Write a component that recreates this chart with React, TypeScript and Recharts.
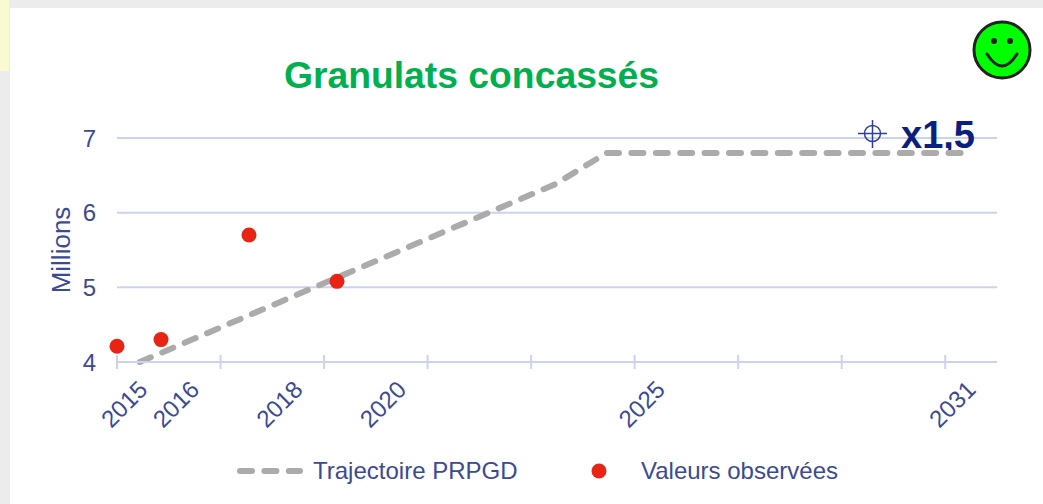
import React from 'react';
import { ComposedChart, Line, XAxis, YAxis, CartesianGrid, Legend } from 'recharts';

// x values are in axis slots: the printed years are not evenly placed on the source axis
const trajectoryX = [0.22, 2.125, 4.23, 4.73, 8.17];
const trajectoryY = [4.0, 5.13, 6.38, 6.8, 6.8];
const observedX = [0, 0.425, 1.275, 2.125];
const observedY = [4.21, 4.3, 5.7, 5.08];

const tickSlots = [0, 1, 2, 3, 4, 5, 6, 7, 8];
const labelSlots = [0, 0.5, 1.5, 2.5, 5, 8];
const labelYears = ['2015', '2016', '2018', '2020', '2025', '2031'];
const yTicks = [4, 5, 6, 7];

const title = 'Granulats concassés';
const multiplier = 'x1,5';
const trajectoryName = 'Trajectoire PRPGD';
const observedName = 'Valeurs observées';

const FONT = '"Liberation Sans", Arial, sans-serif';
const TEXT = '#3b4a93';
const GRID = '#cdd3ee';
const DASH = '#ababab';

const rows = [
  ...trajectoryX.map((x, i) => ({ x, trajectory: trajectoryY[i] })),
  ...observedX.map((x, i) => ({ x, observed: observedY[i] })),
].sort((a, b) => a.x - b.x);

const allTicks = [...new Set([...tickSlots, ...labelSlots])].sort((a, b) => a - b);

const XTick = ({ x, y, payload }: any) => {
  const idx = labelSlots.indexOf(payload.value);
  return (
    <g>
      {tickSlots.includes(payload.value) && (
        <line x1={x} x2={x} y1={355} y2={369} stroke={GRID} strokeWidth={2} />
      )}
      {idx >= 0 && (
        <text
          x={x + 7}
          y={404}
          textAnchor="middle"
          dominantBaseline="central"
          transform={`rotate(-45 ${x + 7} 404)`}
          fill={TEXT}
          fontSize={24}
          fontFamily={FONT}
        >
          {labelYears[idx]}
        </text>
      )}
    </g>
  );
};

const LegendContent = () => (
  <div style={{ position: 'relative', height: 34, fontFamily: FONT, fontSize: 24, color: TEXT }}>
    <svg width={1043} height={34} style={{ position: 'absolute', left: 0, top: 0 }}>
      <line x1={240} x2={300} y1={17} y2={17} stroke={DASH} strokeWidth={6} strokeLinecap="round" strokeDasharray="12 12.4" />
      <circle cx={599} cy={17} r={7.5} fill="#e82514" />
    </svg>
    <span style={{ position: 'absolute', left: 313, top: 3 }}>{trajectoryName}</span>
    <span style={{ position: 'absolute', left: 641, top: 3 }}>{observedName}</span>
  </div>
);

const App = () => (
  <div style={{ position: 'fixed', left: 0, top: 0, width: 1043, height: 504, background: '#ececec', overflow: 'hidden' }}>
    <div style={{ position: 'absolute', left: 0, top: 0, width: 9, height: 71, background: '#f9f9d2' }} />
    <div style={{ position: 'absolute', left: 10, top: 8, width: 1033, height: 496, background: '#fff' }} />
    <div style={{ position: 'absolute', left: 0, top: 0 }}>
      <ComposedChart
        width={1043}
        height={504}
        data={rows}
        margin={{ left: 57, right: 46, top: 138, bottom: 18 }}
      >
        <CartesianGrid horizontal vertical={false} stroke={GRID} strokeWidth={2} />
        <XAxis
          dataKey="x"
          type="number"
          domain={[0, 8.5]}
          ticks={allTicks}
          interval={0}
          height={90}
          tick={<XTick />}
          tickLine={false}
          axisLine={{ stroke: GRID, strokeWidth: 2 }}
        />
        <YAxis
          domain={[4, 7]}
          ticks={yTicks}
          width={60}
          axisLine={false}
          tickLine={false}
          tickMargin={15}
          tick={{ fill: TEXT, fontSize: 24, fontFamily: FONT }}
        />
        <Legend verticalAlign="bottom" content={<LegendContent />} wrapperStyle={{ left: 0, top: 454, width: 1043 }} />
        <Line
          dataKey="trajectory"
          name={trajectoryName}
          stroke={DASH}
          strokeWidth={6}
          strokeLinecap="round"
          strokeDasharray="12 12.4"
          dot={false}
          connectNulls
          isAnimationActive={false}
        />
        <Line
          dataKey="observed"
          name={observedName}
          stroke="none"
          dot={{ r: 7.5, fill: '#e82514', stroke: 'none' }}
          isAnimationActive={false}
        />
        <text x={471.5} y={88} textAnchor="middle" fontFamily={FONT} fontWeight={700} fontSize={37.3} fill="#00b050">
          {title}
        </text>
        <text x={60.5} y={250} textAnchor="middle" dominantBaseline="central" transform="rotate(-90 60.5 250)" fontFamily={FONT} fontSize={26} fill={TEXT}>
          Millions
        </text>
        <g stroke="#2f3f96" strokeWidth={1.5} fill="none">
          <circle cx={872.5} cy={133.5} r={8} />
          <line x1={858} x2={887} y1={133.5} y2={133.5} />
          <line x1={872.5} x2={872.5} y1={120} y2={148} />
        </g>
        <text x={901} y={148} fontFamily={FONT} fontWeight={700} fontSize={38} fill="#0b1f7f">
          {multiplier}
        </text>
        <g>
          <circle cx={1002} cy={50} r={28} fill="#00ff00" stroke="#222" strokeWidth={3} />
          <circle cx={994} cy={41} r={3} fill="#222" />
          <circle cx={1010} cy={41} r={3} fill="#222" />
          <path d="M987 54 Q1002 78 1017 54" fill="none" stroke="#222" strokeWidth={3} strokeLinecap="round" />
        </g>
      </ComposedChart>
    </div>
  </div>
);

export default App;
